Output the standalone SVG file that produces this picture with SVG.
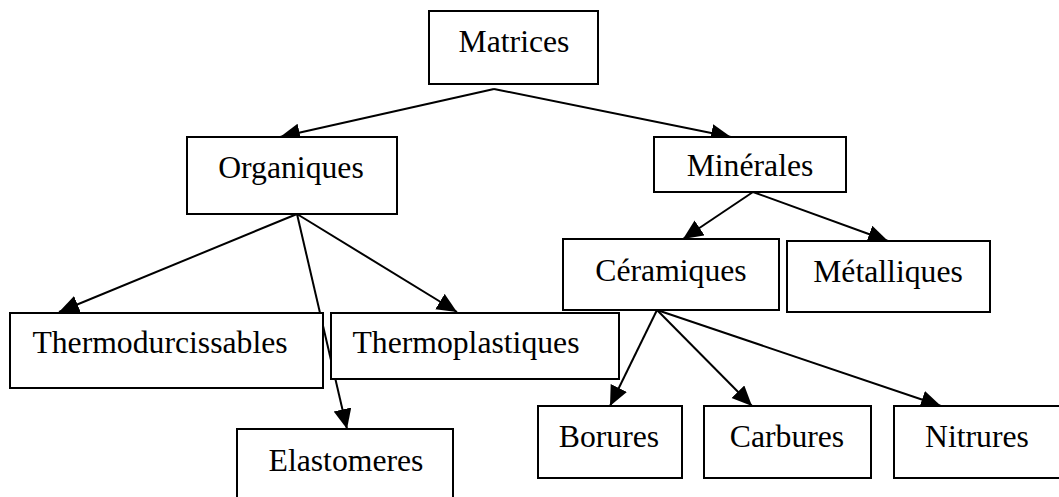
<svg xmlns="http://www.w3.org/2000/svg" width="1059" height="497" viewBox="0 0 1059 497">
<style>
.box{fill:#fff;stroke:#000;stroke-width:2}
.lbl{font-family:"Liberation Serif","Times New Roman",serif;font-size:31.7px;fill:#000;text-anchor:middle}
.edge{stroke:#000;stroke-width:2;fill:none;marker-end:url(#arr)}
</style>
<defs>
<marker id="arr" markerUnits="userSpaceOnUse" markerWidth="22" markerHeight="20" refX="20" refY="9" orient="auto">
<path d="M0,0 L20,9 L0,18 z" fill="#000"/>
</marker>
</defs>
<rect width="1059" height="497" fill="#fff"/>
<g id="connectors">
<line class="edge" x1="494" y1="89" x2="280" y2="137"/>
<line class="edge" x1="494" y1="89" x2="731" y2="137"/>
<line class="edge" x1="297" y1="214" x2="59" y2="312"/>
<line class="edge" x1="297" y1="214" x2="457" y2="312"/>
<line class="edge" x1="297" y1="214" x2="347" y2="429"/>
<line class="edge" x1="753" y1="192" x2="683" y2="239"/>
<line class="edge" x1="753" y1="192" x2="888" y2="241"/>
<line class="edge" x1="657" y1="310" x2="610" y2="406"/>
<line class="edge" x1="657" y1="310" x2="752" y2="406"/>
<line class="edge" x1="657" y1="310" x2="941" y2="406"/>
</g>
<g id="matrices"><rect class="box" x="429" y="11" width="169" height="73"/><text class="lbl" x="514" y="52">Matrices</text></g>
<g id="organiques"><rect class="box" x="187" y="137" width="210" height="77"/><text class="lbl" x="291" y="178">Organiques</text></g>
<g id="minerales"><rect class="box" x="654" y="137" width="192" height="55"/><text class="lbl" x="750" y="176">Minérales</text></g>
<g id="ceramiques"><rect class="box" x="563" y="239" width="216" height="71"/><text class="lbl" x="671" y="281">Céramiques</text></g>
<g id="metalliques"><rect class="box" x="787" y="241" width="203" height="71"/><text class="lbl" x="888" y="282">Métalliques</text></g>
<g id="thermodurcissables"><rect class="box" x="10" y="313" width="313" height="75"/><text class="lbl" x="160" y="353">Thermodurcissables</text></g>
<g id="thermoplastiques"><rect class="box" x="331" y="313" width="288" height="66"/><text class="lbl" x="466" y="353">Thermoplastiques</text></g>
<g id="elastomeres"><rect class="box" x="237" y="429" width="216" height="80"/><text class="lbl" x="346" y="471">Elastomeres</text></g>
<g id="borures"><rect class="box" x="538" y="406" width="144" height="72"/><text class="lbl" x="609" y="447">Borures</text></g>
<g id="carbures"><rect class="box" x="704" y="406" width="167" height="72"/><text class="lbl" x="787" y="447">Carbures</text></g>
<g id="nitrures"><rect class="box" x="894" y="406" width="170" height="72"/><text class="lbl" x="977" y="447">Nitrures</text></g>
</svg>
